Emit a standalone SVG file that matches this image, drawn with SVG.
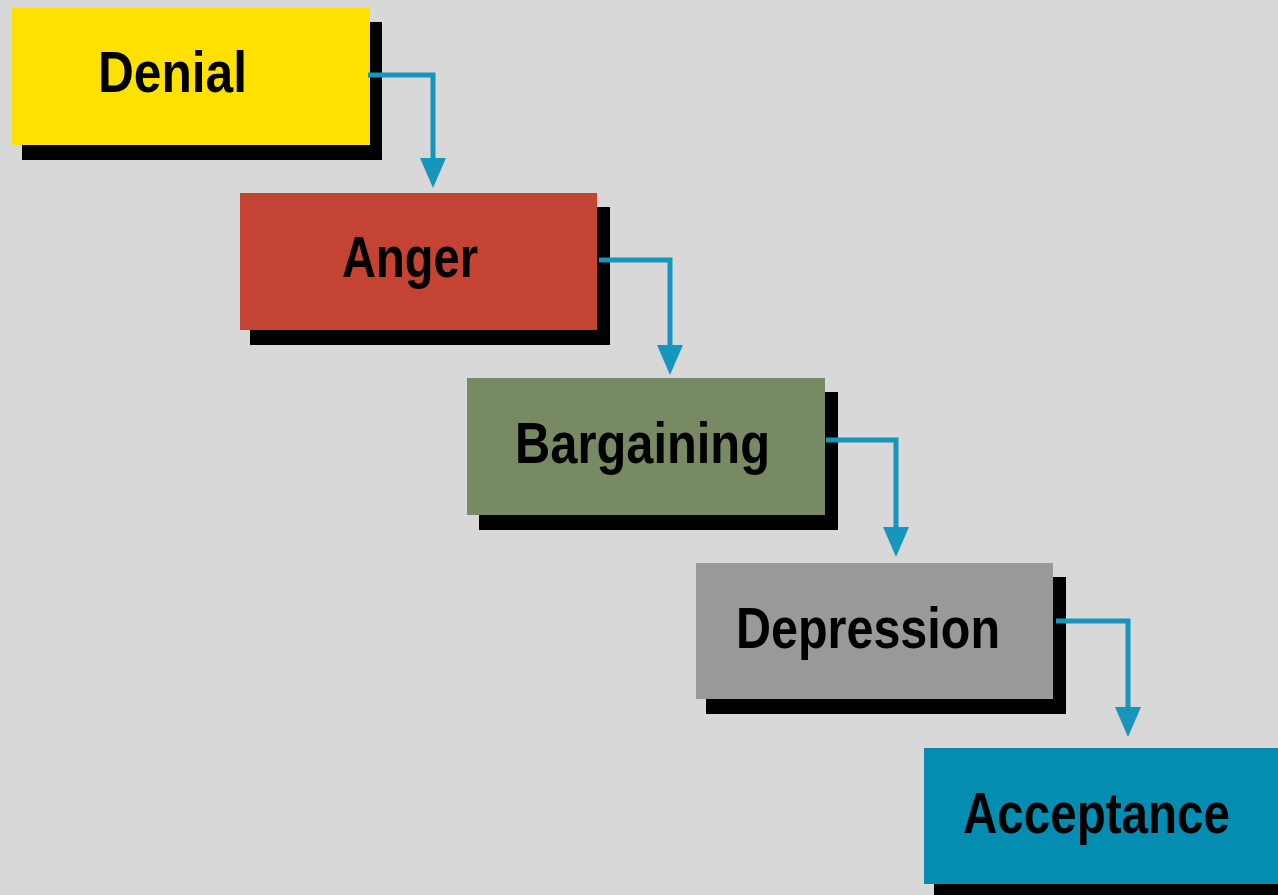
<svg xmlns="http://www.w3.org/2000/svg" width="1278" height="895" viewBox="0 0 1278 895">
<style>
.sh{fill:#000}
.lbl{font-family:"Liberation Sans Narrow","Liberation Sans",Arial,sans-serif;font-weight:bold;font-size:57px;fill:#000;text-anchor:start}
.cn{fill:none;stroke:#1796bd;stroke-width:5}
.ah{fill:#1796bd}
</style>
<rect width="1278" height="895" fill="#d8d8d8"/>
<g id="denial">
<rect class="sh" x="22" y="22" width="360" height="138"/>
<rect x="12" y="8" width="358" height="137" fill="#ffe100"/>
<text class="lbl" x="98" y="92" textLength="149" lengthAdjust="spacingAndGlyphs">Denial</text>
</g>
<g id="anger">
<rect class="sh" x="250" y="207" width="360" height="138"/>
<rect x="240" y="193" width="357" height="137" fill="#c54333"/>
<text class="lbl" x="342" y="277" textLength="136" lengthAdjust="spacingAndGlyphs">Anger</text>
</g>
<g id="bargaining">
<rect class="sh" x="479" y="392" width="359" height="138"/>
<rect x="467" y="378" width="358" height="137" fill="#778a63"/>
<text class="lbl" x="515" y="463" textLength="255" lengthAdjust="spacingAndGlyphs">Bargaining</text>
</g>
<g id="depression">
<rect class="sh" x="706" y="577" width="360" height="137"/>
<rect x="696" y="563" width="357" height="136" fill="#999999"/>
<text class="lbl" x="736" y="648" textLength="264" lengthAdjust="spacingAndGlyphs">Depression</text>
</g>
<g id="acceptance">
<rect class="sh" x="934" y="762" width="344" height="133"/>
<rect x="924" y="748" width="354" height="136" fill="#048db1"/>
<text class="lbl" x="963" y="833" textLength="267" lengthAdjust="spacingAndGlyphs">Acceptance</text>
</g>
<g id="connectors">
<path class="cn" d="M368,75 H433 V160"/>
<path class="ah" d="M420,158 L446,158 L433,188 Z"/>
<path class="cn" d="M599,260 H670 V347"/>
<path class="ah" d="M657,345 L683,345 L670,375 Z"/>
<path class="cn" d="M826,440 H896 V529"/>
<path class="ah" d="M883,527 L909,527 L896,557 Z"/>
<path class="cn" d="M1056,621 H1128 V709"/>
<path class="ah" d="M1115,707 L1141,707 L1128,737 Z"/>
</g>
</svg>
